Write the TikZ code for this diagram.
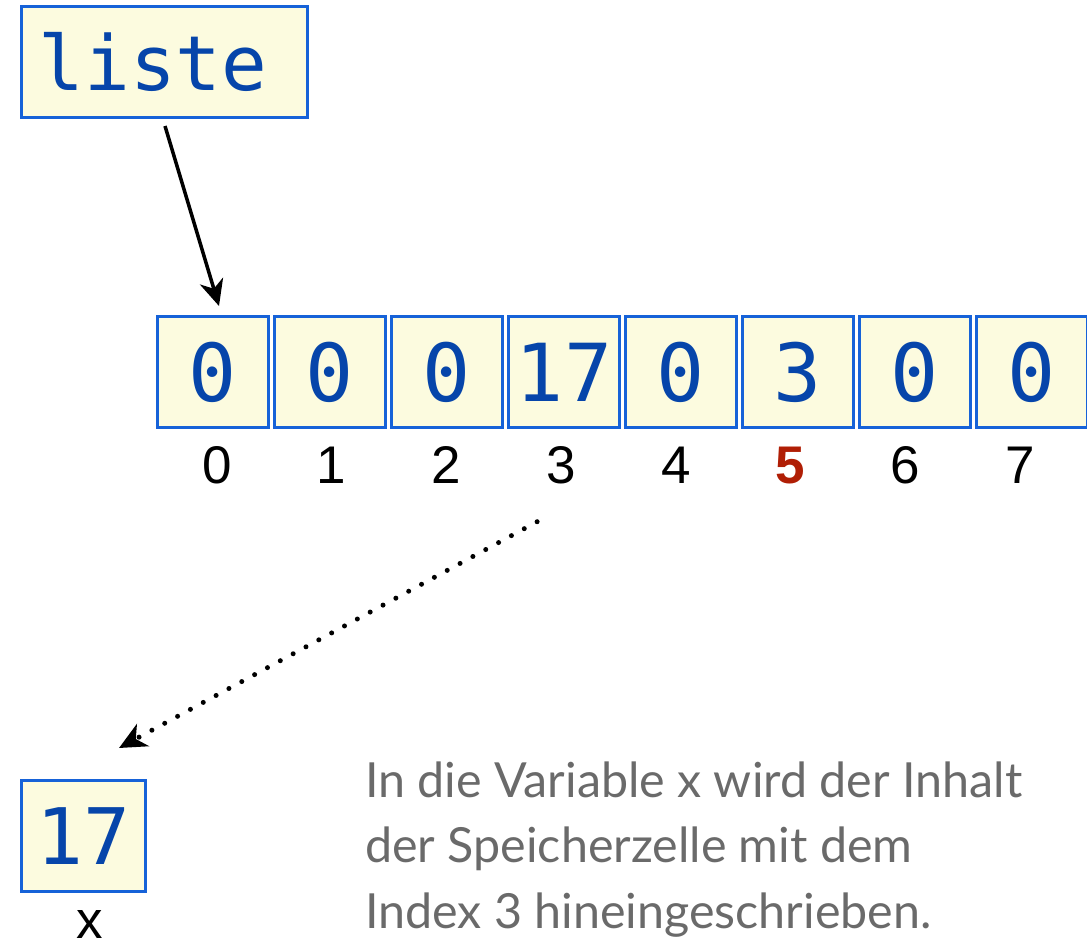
\documentclass[tikz,border=0pt]{standalone}
\usepackage{fontspec}
\setmainfont{Liberation Sans}
\newfontfamily\codefont{DejaVu Sans Mono}
\newfontfamily\notefont{Lato}
\usetikzlibrary{arrows.meta,calc}

\definecolor{cellblue}{HTML}{1662D8}
\definecolor{cellfill}{HTML}{FCFBDF}
\definecolor{codeblue}{HTML}{0645AA}
\definecolor{indexred}{HTML}{B01E05}
\definecolor{notegray}{HTML}{6A6A6A}

\tikzset{
  memcell/.style={draw=cellblue, fill=cellfill, line width=3pt,
    minimum width=111pt, minimum height=111pt, inner sep=0pt,
    text=codeblue, anchor=north west,
    font=\codefont\fontsize{80}{80}\selectfont},
  idxlabel/.style={anchor=base, inner sep=0pt,
    font=\fontsize{53}{53}\selectfont},
  refarrow/.style={line width=3.5pt,
    -{Stealth[length=26pt, width=24pt, inset=8pt]}},
  copyarrow/.style={line width=5pt, line cap=round,
    dash pattern=on 0pt off 14.6pt,
    -{Stealth[length=27pt, width=25pt, inset=8pt]}},
}

\begin{document}
\begin{tikzpicture}[x=1pt, y=-1pt]
\useasboundingbox (0,0) rectangle (1087,940);

% variable holding the reference to the array
\node[memcell, minimum width=286pt, text width=252pt, inner xsep=17pt,
      align=left, font=\codefont\fontsize{76}{76}\selectfont]
  (liste) at (20,5) {liste};

% the array cells and their indices
\foreach \i/\v in {0/0,1/0,2/0,3/17,4/0,5/3,6/0,7/0}{
  \node[memcell] (c\i) at ({156+117*\i},315) {\v};
}
\foreach \i in {0,1,2,3,4,6,7}{
  \node[idxlabel] (i\i) at ({217+114.7*\i},483) {\i};
}
\node[idxlabel, text=indexred, font=\fontsize{53}{53}\selectfont\bfseries]
  (i5) at ({217+114.7*5},483) {5};

% the variable x
\node[memcell, minimum width=124pt, font=\codefont\fontsize{78}{78}\selectfont]
  (xbox) at (20,779) {17};
\node[idxlabel] (xlab) at ($(xbox.south)+(6,45)$) {x};

% connectors
\draw[refarrow] ($(liste.south west)+(145,7)$) -- ($(c0.north)+(6,-9)$);
\draw[copyarrow] ($(i3.south)+(-24,38)$) -- ($(xbox.north east)+(-28,-31)$);

% explanation (the node's base is the baseline of its last line)
\node[anchor=base west, inner sep=0pt, text=notegray, align=left,
      font=\notefont\fontsize{48.4}{65.5}\selectfont]
  (note) at (365,928)
  {In die Variable x wird der Inhalt\\der Speicherzelle mit dem\\Index 3 hineingeschrieben.};
\end{tikzpicture}
\end{document}
